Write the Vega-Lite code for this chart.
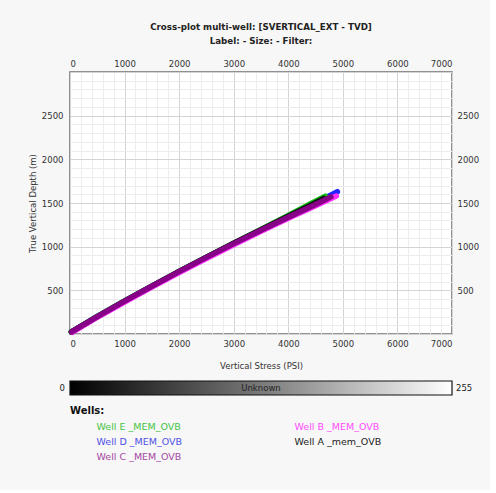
{
  "$schema": "https://vega.github.io/schema/vega-lite/v6.json",
  "background": "#f7f7f7",
  "padding": {"top": 21, "left": 27, "right": 10, "bottom": 28},
  "config": {
    "font": "DejaVu Sans",
    "axis": {"labelFont": "DejaVu Sans", "labelFontSize": 8.5, "labelColor": "#333333", "titleFont": "DejaVu Sans", "titleFontSize": 8.5, "titleFontWeight": "normal", "titleColor": "#333333", "domain": false, "ticks": false, "tickSize": 0, "format": "d"},
    "view": {"stroke": "#6f6f6f", "strokeWidth": 1.5, "fill": "white"}
  },
  "spacing": 9,
  "resolve": {"legend": {"color": "shared"}, "scale": {"color": "shared"}},
  "vconcat": [
    {
      "width": 382,
      "height": 262,
      "title": {
        "text": "Cross-plot multi-well: [SVERTICAL_EXT - TVD]",
        "subtitle": "Label:  -  Size:  -  Filter:",
        "anchor": "middle",
        "font": "DejaVu Sans",
        "fontSize": 8.7,
        "fontWeight": "bold",
        "color": "#222222",
        "subtitleFont": "DejaVu Sans",
        "subtitleFontSize": 8.7,
        "subtitleFontWeight": "bold",
        "subtitleColor": "#222222",
        "subtitlePadding": 6,
        "offset": 13
      },
      "data": {
        "values": [
          {"well": "Well D _MEM_OVB", "psi": 30, "tvd": 25},
          {"well": "Well D _MEM_OVB", "psi": 500, "tvd": 201},
          {"well": "Well D _MEM_OVB", "psi": 1000, "tvd": 376},
          {"well": "Well D _MEM_OVB", "psi": 1500, "tvd": 547},
          {"well": "Well D _MEM_OVB", "psi": 2000, "tvd": 714},
          {"well": "Well D _MEM_OVB", "psi": 2500, "tvd": 877},
          {"well": "Well D _MEM_OVB", "psi": 3000, "tvd": 1036},
          {"well": "Well D _MEM_OVB", "psi": 3500, "tvd": 1192},
          {"well": "Well D _MEM_OVB", "psi": 4000, "tvd": 1346},
          {"well": "Well D _MEM_OVB", "psi": 4500, "tvd": 1500},
          {"well": "Well D _MEM_OVB", "psi": 4900, "tvd": 1630},
          {"well": "Well E _MEM_OVB", "psi": 20, "tvd": 22},
          {"well": "Well E _MEM_OVB", "psi": 500, "tvd": 202},
          {"well": "Well E _MEM_OVB", "psi": 1000, "tvd": 378},
          {"well": "Well E _MEM_OVB", "psi": 1500, "tvd": 549},
          {"well": "Well E _MEM_OVB", "psi": 2000, "tvd": 716},
          {"well": "Well E _MEM_OVB", "psi": 2500, "tvd": 880},
          {"well": "Well E _MEM_OVB", "psi": 3000, "tvd": 1040},
          {"well": "Well E _MEM_OVB", "psi": 3500, "tvd": 1198},
          {"well": "Well E _MEM_OVB", "psi": 4000, "tvd": 1358},
          {"well": "Well E _MEM_OVB", "psi": 4400, "tvd": 1488},
          {"well": "Well E _MEM_OVB", "psi": 4680, "tvd": 1578},
          {"well": "Well A  _mem_OVB", "psi": 25, "tvd": 24},
          {"well": "Well A  _mem_OVB", "psi": 1000, "tvd": 377},
          {"well": "Well A  _mem_OVB", "psi": 2000, "tvd": 716},
          {"well": "Well A  _mem_OVB", "psi": 3000, "tvd": 1039},
          {"well": "Well A  _mem_OVB", "psi": 4000, "tvd": 1350},
          {"well": "Well A  _mem_OVB", "psi": 4400, "tvd": 1472},
          {"well": "Well A  _mem_OVB", "psi": 4650, "tvd": 1552},
          {"well": "Well B _MEM_OVB", "psi": 40, "tvd": 18},
          {"well": "Well B _MEM_OVB", "psi": 500, "tvd": 192},
          {"well": "Well B _MEM_OVB", "psi": 1000, "tvd": 366},
          {"well": "Well B _MEM_OVB", "psi": 1500, "tvd": 536},
          {"well": "Well B _MEM_OVB", "psi": 2000, "tvd": 703},
          {"well": "Well B _MEM_OVB", "psi": 2500, "tvd": 865},
          {"well": "Well B _MEM_OVB", "psi": 3000, "tvd": 1022},
          {"well": "Well B _MEM_OVB", "psi": 3500, "tvd": 1175},
          {"well": "Well B _MEM_OVB", "psi": 4000, "tvd": 1324},
          {"well": "Well B _MEM_OVB", "psi": 4500, "tvd": 1469},
          {"well": "Well B _MEM_OVB", "psi": 4880, "tvd": 1580},
          {"well": "Well C _MEM_OVB", "psi": 30, "tvd": 25},
          {"well": "Well C _MEM_OVB", "psi": 500, "tvd": 200},
          {"well": "Well C _MEM_OVB", "psi": 1000, "tvd": 376},
          {"well": "Well C _MEM_OVB", "psi": 1500, "tvd": 547},
          {"well": "Well C _MEM_OVB", "psi": 2000, "tvd": 714},
          {"well": "Well C _MEM_OVB", "psi": 2500, "tvd": 877},
          {"well": "Well C _MEM_OVB", "psi": 3000, "tvd": 1035},
          {"well": "Well C _MEM_OVB", "psi": 3500, "tvd": 1189},
          {"well": "Well C _MEM_OVB", "psi": 4000, "tvd": 1338},
          {"well": "Well C _MEM_OVB", "psi": 4500, "tvd": 1484},
          {"well": "Well C _MEM_OVB", "psi": 4780, "tvd": 1570}
        ]
      },
      "resolve": {"axis": {"x": "independent", "y": "independent"}},
      "layer": [
        {
          "mark": {"type": "line", "strokeWidth": 5.5, "strokeCap": "round", "strokeJoin": "round"},
          "encoding": {
            "x": {
              "field": "psi", "type": "quantitative",
              "scale": {"domain": [0, 7000], "nice": false, "zero": false},
              "axis": {
                "orient": "bottom", "title": "Vertical Stress (PSI)",
                "values": [0,200,400,600,800,1000,1200,1400,1600,1800,2000,2200,2400,2600,2800,3000,3200,3400,3600,3800,4000,4200,4400,4600,4800,5000,5200,5400,5600,5800,6000,6200,6400,6600,6800,7000],
                "labelExpr": "datum.value % 1000 === 0 ? datum.label : ''",
                "labelOverlap": false,
                "labelPadding": 5,
                "titlePadding": 14,
                "grid": true,
                "gridColor": {"condition": {"test": "datum.value % 1000 === 0", "value": "#d4d4d4"}, "value": "#ececec"},
                "gridWidth": 1
              }
            },
            "y": {
              "field": "tvd", "type": "quantitative",
              "scale": {"domain": [0, 3000], "nice": false, "zero": false},
              "axis": {
                "orient": "left", "title": "True Vertical Depth (m)",
                "values": [0,100,200,300,400,500,600,700,800,900,1000,1100,1200,1300,1400,1500,1600,1700,1800,1900,2000,2100,2200,2300,2400,2500,2600,2700,2800,2900,3000],
                "labelExpr": "datum.value % 500 === 0 && datum.value > 0 && datum.value < 3000 ? datum.label : ''",
                "labelOverlap": false,
                "labelPadding": 7,
                "titlePadding": 4,
                "grid": true,
                "gridColor": {"condition": {"test": "datum.value % 500 === 0", "value": "#d4d4d4"}, "value": "#ececec"},
                "gridWidth": 1
              }
            },
            "color": {
              "field": "well", "type": "nominal",
              "scale": {
                "domain": ["Well E _MEM_OVB", "Well D _MEM_OVB", "Well C _MEM_OVB", "Well B _MEM_OVB", "Well A  _mem_OVB"],
                "range": ["#10c010", "#2424ff", "#870087", "#ff30ff", "#111111"]
              },
              "legend": {
                "title": "Wells:",
                "orient": "bottom",
                "direction": "vertical",
                "columns": 2,
                "columnPadding": 85,
                "rowPadding": 4,
                "symbolSize": 0,
                "symbolOpacity": 0,
                "symbolStrokeWidth": 0,
                "labelOffset": 17,
                "labelFont": "DejaVu Sans",
                "labelFontSize": 9.5,
                "labelLimit": 0,
                "titleFont": "DejaVu Sans",
                "titleFontSize": 10,
                "titleFontWeight": "bold",
                "titleColor": "#111111",
                "titlePadding": 6,
                "offset": 10,
                "encode": {
                  "labels": {
                    "update": {
                      "fill": {"signal": "datum.value === 'Well E _MEM_OVB' ? '#45c445' : datum.value === 'Well B _MEM_OVB' ? '#ff4cff' : datum.value === 'Well D _MEM_OVB' ? '#4f4fe6' : datum.value === 'Well C _MEM_OVB' ? '#a347a3' : '#222222'"}
                    }
                  }
                }
              }
            }
          }
        },
        {
          "mark": {"type": "point", "opacity": 0},
          "encoding": {
            "x": {
              "field": "psi", "type": "quantitative",
              "axis": {"orient": "top", "title": null, "values": [0,1000,2000,3000,4000,5000,6000,7000], "labelPadding": 4, "grid": false, "labelOverlap": false}
            },
            "y": {
              "field": "tvd", "type": "quantitative",
              "axis": {"orient": "right", "title": null, "values": [500,1000,1500,2000,2500], "labelPadding": 5, "grid": false, "labelOverlap": false}
            }
          }
        }
      ]
    },
    {
      "width": 382,
      "height": 14,
      "view": {"stroke": null, "fill": null},
      "data": {"values": [{"label": "Unknown", "min": 0, "max": 255}]},
      "layer": [
        {
          "mark": {
            "type": "rect",
            "stroke": "#111111",
            "strokeWidth": 1.2,
            "color": {"gradient": "linear", "x1": 0, "x2": 1, "y1": 0, "y2": 0, "stops": [{"offset": 0, "color": "#000000"}, {"offset": 0.5, "color": "#7a7a7a"}, {"offset": 1, "color": "#ffffff"}]}
          },
          "encoding": {
            "x": {"field": "min", "type": "quantitative", "scale": {"domain": [0, 255], "nice": false}, "axis": null},
            "x2": {"field": "max"}
          }
        },
        {
          "mark": {"type": "text", "fontSize": 8.5, "color": "#222222", "align": "center", "baseline": "middle"},
          "encoding": {
            "x": {"datum": 127.5, "type": "quantitative"},
            "text": {"field": "label"}
          }
        },
        {
          "mark": {"type": "text", "fontSize": 8.5, "color": "#222222", "align": "right", "baseline": "middle", "dx": -5},
          "encoding": {
            "x": {"field": "min", "type": "quantitative"},
            "text": {"field": "min"}
          }
        },
        {
          "mark": {"type": "text", "fontSize": 8.5, "color": "#222222", "align": "left", "baseline": "middle", "dx": 4},
          "encoding": {
            "x": {"field": "max", "type": "quantitative"},
            "text": {"field": "max"}
          }
        }
      ]
    }
  ]
}
